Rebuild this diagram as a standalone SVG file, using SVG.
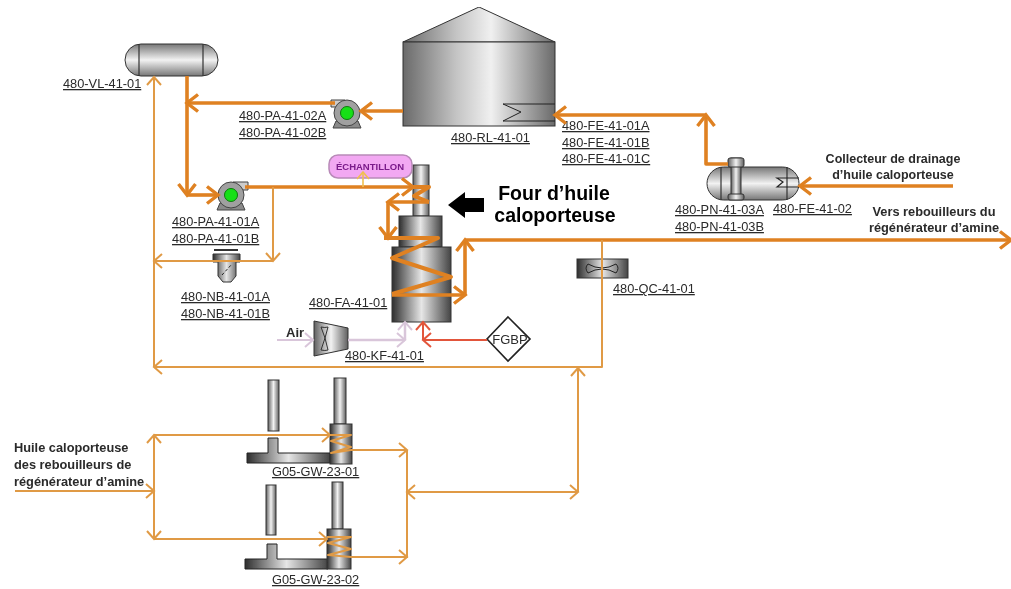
<svg xmlns="http://www.w3.org/2000/svg" width="1011" height="589" viewBox="0 0 1011 589">
<style>
text{font-family:"Liberation Sans",Arial,sans-serif;fill:#2a2a2a}
.l{font-size:12.8px;text-decoration:underline}
.f{font-size:12.8px;font-weight:bold}
.b{font-weight:bold}
.m{text-anchor:middle}
.e{stroke:#333;stroke-width:1.2}
.c{fill:url(#h);stroke:#333;stroke-width:1}
.s{fill:none;stroke-linejoin:round}
.k{stroke:#df8120;stroke-width:3.6;marker-end:url(#ak)}
.k0{stroke:#df8120;stroke-width:4}
.t{stroke:#e09a45;stroke-width:2;marker-end:url(#at)}
.t0{stroke:#e09a45;stroke-width:2}
.tb{stroke:#e09a45;stroke-width:2;marker-end:url(#at);marker-start:url(#as)}
</style>
<defs>
<linearGradient id="h"><stop offset="0" stop-color="#606060"/><stop offset=".5" stop-color="#f2f2f2"/><stop offset="1" stop-color="#606060"/></linearGradient>
<linearGradient id="tk"><stop offset="0" stop-color="#6a6a6a"/><stop offset=".35" stop-color="#c4c4c4"/><stop offset=".58" stop-color="#f0f0f0"/><stop offset="1" stop-color="#6a6a6a"/></linearGradient>
<linearGradient id="v" x1="0" y1="0" x2="0" y2="1"><stop offset="0" stop-color="#777"/><stop offset=".5" stop-color="#f2f2f2"/><stop offset="1" stop-color="#777"/></linearGradient>
<linearGradient id="hb"><stop offset="0" stop-color="#2e2e2e"/><stop offset=".5" stop-color="#e6e6e6"/><stop offset="1" stop-color="#444"/></linearGradient>
<marker id="ak" markerUnits="userSpaceOnUse" markerWidth="18" markerHeight="22" refX="13" refY="11" orient="auto"><path d="M2 2.500L13 11L2 19.500" fill="none" stroke="#df8120" stroke-width="3.4"/></marker>
<marker id="at" markerUnits="userSpaceOnUse" markerWidth="14" markerHeight="18" refX="9" refY="9" orient="auto"><path d="M1 2L9 9L1 16" fill="none" stroke="#e09a45" stroke-width="2"/></marker>
<marker id="as" markerUnits="userSpaceOnUse" markerWidth="14" markerHeight="18" refX="5" refY="9" orient="auto"><path d="M13 2L5 9L13 16" fill="none" stroke="#e09a45" stroke-width="2"/></marker>
<marker id="ap" markerUnits="userSpaceOnUse" markerWidth="14" markerHeight="18" refX="9" refY="9" orient="auto"><path d="M1 2L9 9L1 16" fill="none" stroke="#d9c6da" stroke-width="2"/></marker>
<marker id="ar" markerUnits="userSpaceOnUse" markerWidth="14" markerHeight="18" refX="9" refY="9" orient="auto"><path d="M1 2L9 9L1 16" fill="none" stroke="#e2553a" stroke-width="2"/></marker>
<marker id="ay" markerUnits="userSpaceOnUse" markerWidth="14" markerHeight="18" refX="9" refY="9" orient="auto"><path d="M2 3L9 9L2 15" fill="none" stroke="#f0c050" stroke-width="1.6"/></marker>
<filter id="soft" x="0" y="0" width="1" height="1"><feGaussianBlur stdDeviation="0.5"/></filter>
<g id="pumpShape">
<path d="M-11 8L11 8L14 15L-14 15Z" fill="#8a8a8a" stroke="#444"/>
<circle r="13" fill="#a0a0a0" stroke="#444"/>
<circle r="6.500" fill="#16e016" stroke="#0a7a0a"/>
</g>
</defs>
<rect width="1011" height="589" fill="#fff"/>
<g filter="url(#soft)">

<g id="vl-41-01"><rect x="125" y="44" width="93" height="32" rx="16" fill="url(#v)" stroke="#333"/><path class="e" d="M139 44V76M203 44V76"/><text class="l" x="63" y="88">480-VL-41-01</text></g>

<g id="rl-41-01">
<path d="M403 42L479 7L555 42Z" fill="url(#tk)" stroke="#333"/>
<rect x="403" y="42" width="152" height="84" fill="url(#tk)" stroke="#333"/>
<path d="M555 104H503L521 112L503 121H555" fill="none" stroke="#222"/>
<text class="l" x="451" y="142">480-RL-41-01</text>
</g>

<g id="pa-41-02"><path d="M331 100H345V107H331Z" fill="#ccc" stroke="#444"/><use href="#pumpShape" x="347" y="113"/><text class="l" x="239" y="120">480-PA-41-02A</text><text class="l" x="239" y="137">480-PA-41-02B</text></g>

<g id="pa-41-01"><path d="M233 182H248V190H233Z" fill="#ccc" stroke="#444"/><use href="#pumpShape" x="231" y="195"/><text class="l" x="172" y="226">480-PA-41-01A</text><text class="l" x="172" y="243">480-PA-41-01B</text></g>

<g id="nb-41-01">
<path d="M214 250H238" stroke="#333" stroke-width="2"/>
<path d="M213 254H240V262H236V276L231 282H223L218 276V262H213Z" fill="url(#hb)" stroke="#333"/>
<path d="M222 275L232 264" stroke="#222" stroke-dasharray="3 2"/>
<text class="l" x="181" y="301">480-NB-41-01A</text><text class="l" x="181" y="318">480-NB-41-01B</text>
</g>

<g id="fa-41-01">
<rect class="c" x="413" y="165" width="16" height="51"/>
<rect x="399" y="216" width="43" height="31" fill="url(#hb)" stroke="#333"/>
<rect x="392" y="247" width="59" height="75" fill="url(#hb)" stroke="#333"/>
<text class="l" x="309" y="307">480-FA-41-01</text>
</g>

<g id="echantillon"><rect x="329" y="155" width="83" height="23" rx="9" fill="#f2a8f2" stroke="#b88ab8" stroke-width="1.5"/><text class="b m" x="370" y="170" font-size="9.500" style="fill:#7a1a8a">ÉCHANTILLON</text></g>

<g id="four-label"><path d="M448 205L465 192V198H484V212H465V218Z" fill="#000"/><text class="b m" x="554" y="200" font-size="19.500" style="fill:#000">Four d’huile</text><text class="b m" x="555" y="222" font-size="19.500" style="fill:#000">caloporteuse</text></g>

<g id="kf-41-01">
<path d="M314 321L348 328V349L314 356Z" fill="url(#h)" stroke="#333"/>
<path d="M321 327Q325 328 328 327L325 338L328 350Q325 351 321 350L325 338Z" fill="none" stroke="#333"/>
<text class="b" x="286" y="337" font-size="13">Air</text>
<text class="l" x="345" y="360">480-KF-41-01</text>
</g>

<g id="fgbp"><path d="M508 317L530 339L508 361L487 339Z" fill="#fff" stroke="#222" stroke-width="1.6"/><text class="m" x="510" y="344" font-size="13">FGBP</text></g>

<g id="qc-41-01"><rect x="577" y="259" width="51" height="19" fill="url(#hb)" stroke="#333"/><path d="M588 264Q602 272 616 264Q620 268 616 273Q602 265 588 273Q584 268 588 264Z" fill="none" stroke="#222"/><text class="l" x="613" y="293">480-QC-41-01</text></g>

<g id="fe-41-01"><text class="l" x="562" y="130">480-FE-41-01A</text><text class="l" x="562" y="147">480-FE-41-01B</text><text class="l" x="562" y="163">480-FE-41-01C</text></g>

<g id="pn-41-03">
<rect x="707" y="167" width="92" height="33" rx="16.500" fill="url(#v)" stroke="#333"/>
<path class="e" d="M721 167V200M787 167V200"/>
<path d="M799 178H777L783 182L777 187H799" fill="none" stroke="#222" stroke-width="1.200"/>
<rect class="c" x="731" y="158" width="10" height="41"/>
<rect x="728" y="158" width="16" height="9" rx="2" fill="url(#h)" stroke="#333"/>
<rect x="728" y="194" width="16" height="6" rx="2" fill="url(#h)" stroke="#333"/>
<text class="l" x="675" y="214">480-PN-41-03A</text><text class="l" x="675" y="231">480-PN-41-03B</text>
<text class="l" x="773" y="213">480-FE-41-02</text>
</g>

<g id="labels-flux">
<text class="b m" x="893" y="163" font-size="12.500">Collecteur de drainage</text><text class="b m" x="893" y="179" font-size="12.500">d’huile caloporteuse</text>
<text class="f m" x="934" y="216">Vers rebouilleurs du</text><text class="f m" x="934" y="232">régénérateur d’amine</text>
<text class="f" x="14" y="452">Huile caloporteuse</text><text class="f" x="14" y="469">des rebouilleurs de</text><text class="f" x="14" y="486">régénérateur d’amine</text>
</g>

<g id="gw-23-01">
<rect class="c" x="268" y="380" width="11" height="51"/>
<path d="M268 438H278V453H330V463H247V453H268Z" fill="url(#hb)" stroke="#222"/>
<rect class="c" x="334" y="378" width="12" height="46"/>
<rect x="330" y="424" width="22" height="40" fill="url(#hb)" stroke="#333"/>
<text class="l" x="272" y="476">G05-GW-23-01</text>
</g>

<g id="gw-23-02">
<rect class="c" x="266" y="485" width="10" height="50"/>
<path d="M267 544H277V559H328V569H245V559H267Z" fill="url(#hb)" stroke="#222"/>
<rect class="c" x="332" y="482" width="11" height="47"/>
<rect x="327" y="529" width="24" height="40" fill="url(#hb)" stroke="#333"/>
<text class="l" x="272" y="584">G05-GW-23-02</text>
</g>

<g id="connectors" class="s">
<path class="k" d="M403 111H361"/>
<path class="k" d="M335 103H187"/>
<path class="k" d="M187 76V195"/>
<path class="k" d="M187 195H218"/>
<path class="k" d="M245 187H413"/>
<path class="k0" d="M413 187H429L414 196L429 202"/>
<path class="k" d="M429 202H388"/>
<path class="k" d="M388 202V238"/>
<path class="k0" d="M384 238H438L392 258L451 277L392 294"/>
<path class="k" d="M392 295H465"/>
<path class="k" d="M465 295V240"/>
<path class="k" d="M465 240H1011"/>
<path class="k" d="M728 164H706V115"/>
<path class="k" d="M706 115H555"/>
<path class="k" d="M953 186H800"/>
<path class="t" d="M602 240V367H154"/>
<path class="t" d="M154 367V77"/>
<path class="t" d="M273 187V261"/>
<path class="t" d="M273 261H154"/>
<path d="M363 187V172" stroke="#f0c050" stroke-width="1.600" marker-end="url(#ay)"/>
<path d="M277 340H313" stroke="#d9c6da" stroke-width="2" marker-end="url(#ap)"/>
<path d="M348 340H405" stroke="#d9c6da" stroke-width="2.500" marker-end="url(#ap)"/>
<path d="M405 340V322" stroke="#d9c6da" stroke-width="2.500" marker-end="url(#ap)"/>
<path d="M487 340H423" stroke="#e2553a" stroke-width="2" marker-end="url(#ar)"/>
<path d="M423 340V322" stroke="#e2553a" stroke-width="2" marker-end="url(#ar)"/>
<path class="t" d="M15 491H154"/>
<path class="tb" d="M154 435V539"/>
<path class="t" d="M154 435H330"/>
<path class="t" d="M154 539H327"/>
<path class="t0" d="M330 435H351L331 441L351 447L331 453L351 450"/>
<path class="t" d="M351 450H407"/>
<path class="t0" d="M327 537H351L328 543L351 549L328 555L351 557"/>
<path class="t" d="M351 557H407"/>
<path class="t0" d="M407 450V558"/>
<path class="tb" d="M407 492H578"/>
<path class="t" d="M578 492V368"/>
</g>
</g>
</svg>
